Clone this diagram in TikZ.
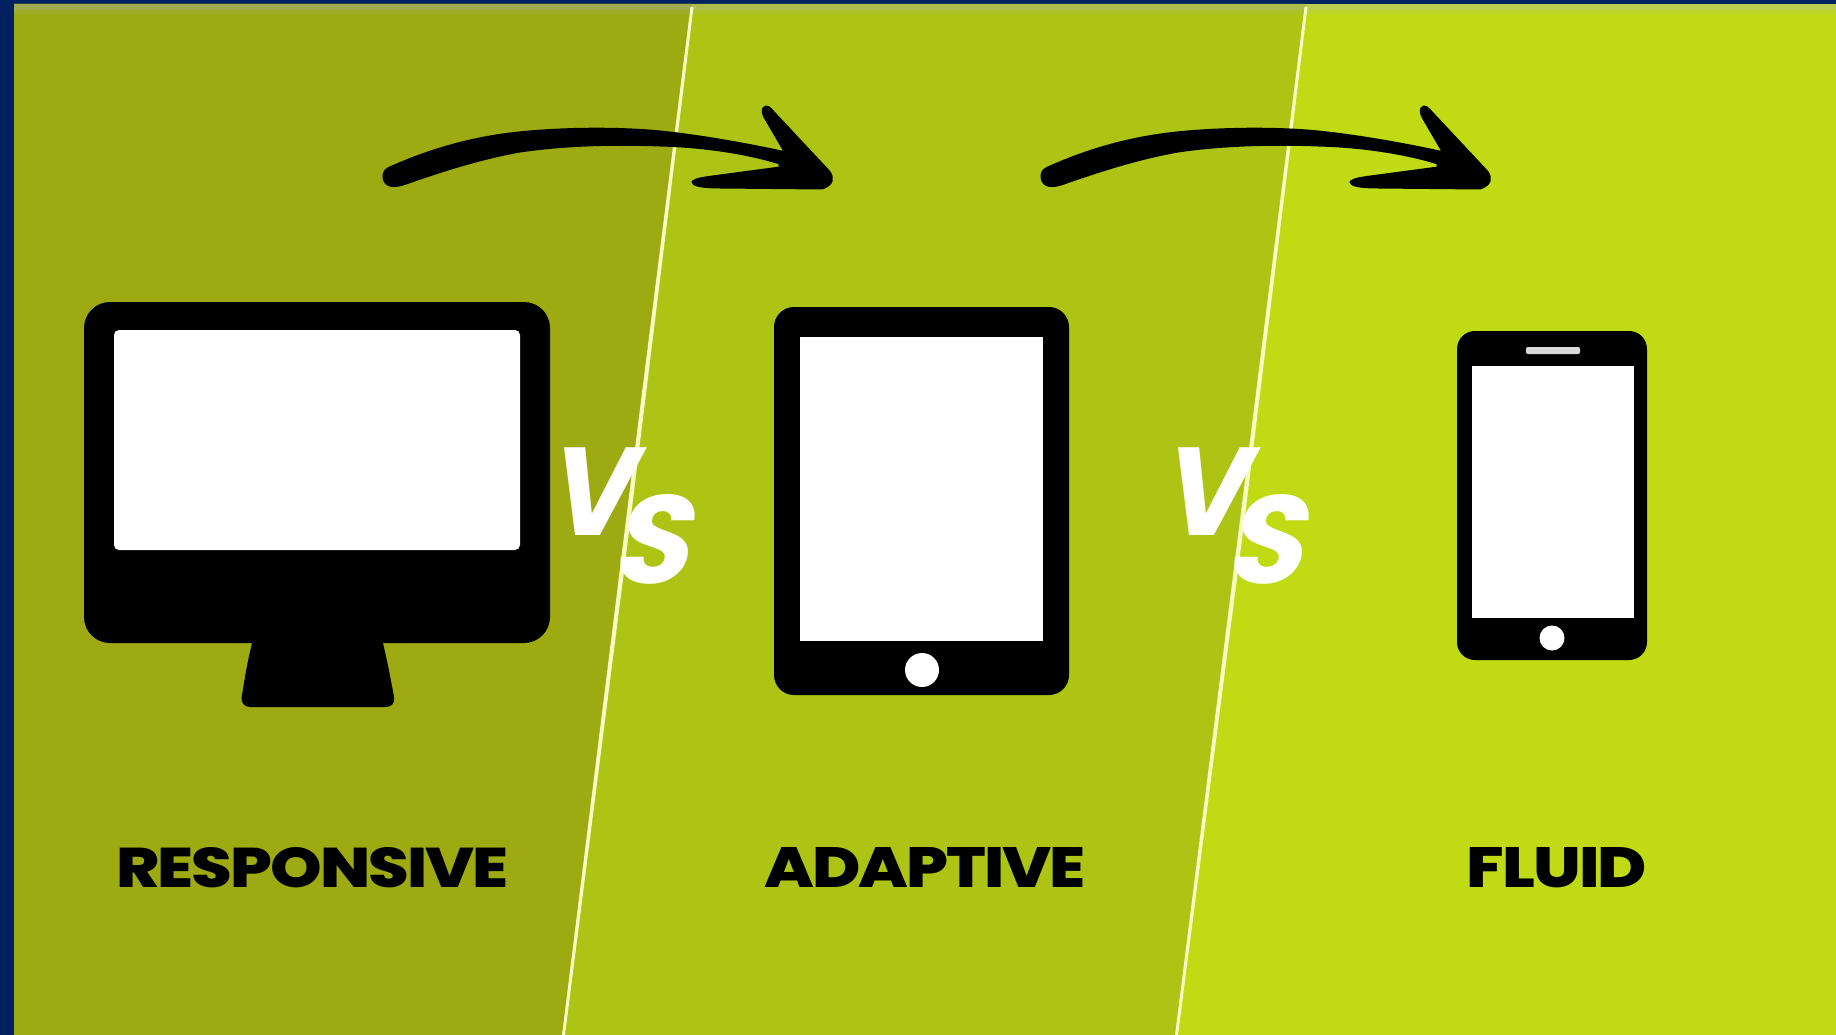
\documentclass[tikz,border=0pt]{standalone}
\usepackage{fontspec}
\usepackage{graphicx}
\IfFontExistsTF{Poppins ExtraBold}{\newfontfamily\labfont{Poppins ExtraBold}[LetterSpace=-3]}{\newfontfamily\labfont{Poppins}[FakeBold=1.5,LetterSpace=-3]}
\newfontfamily\vsfont{Poppins}[FakeSlant=0.22]
\definecolor{bluebg}{HTML}{00205F}
\definecolor{panelA}{HTML}{9DAA12}
\definecolor{panelB}{HTML}{AEC414}
\definecolor{panelC}{HTML}{C0DA14}
\definecolor{rule}{HTML}{F6FCC4}
\definecolor{haze}{HTML}{AAAAFF}
\tikzset{
  px/.style={x=1pt,y=-1pt},
  icon/.style={fill=black,draw=none},
  brush/.style={fill=black,draw=black,line width=3pt,line join=round},
  glass/.style={fill=white,draw=none},
  divider/.style={fill=rule,draw=none},
  lab/.style={inner sep=0pt,text=black,anchor=center},
  vs/.style={inner sep=0pt,text=white,anchor=base west}
}
\newcommand{\arrowshape}{
  (384,176) .. controls (384,172) and (386,170) .. (390,168)
  .. controls (430,150) and (470,139) .. (510,134)
  .. controls (560,128) and (620,128) .. (660,132)
  .. controls (700,136) and (750,145) .. (786,153)
  -- (765,117) .. controls (762,111) and (763,108) .. (766,107)
  .. controls (768,107) and (769,108) .. (771,110)
  -- (829,172) .. controls (833,178) and (833,184) .. (822,188)
  -- (720,187) .. controls (702,187) and (693,185) .. (693,182)
  .. controls (696,179) and (705,178) .. (720,176)
  -- (780,168) -- (780,163)
  .. controls (745,152) and (700,146) .. (660,145)
  .. controls (610,143) and (560,145) .. (520,151)
  .. controls (480,158) and (440,171) .. (403,184)
  .. controls (390,188) and (384,184) .. (384,176) -- cycle
}
\newcommand{\vstext}{\fontsize{125}{125}\vsfont\bfseries\makebox[65pt][l]{\scalebox{.93}[1]{V}}\raisebox{-48pt}{\scalebox{1}[1]{S}}}
\begin{document}
\begin{tikzpicture}[px]
\useasboundingbox (0,0) rectangle (1836,1035);
\fill[bluebg] (0,0) rectangle (1836,1035);
% panels
\fill[panelC] (14,4) rectangle (1836,1035);
\fill[panelB] (14,4) -- (1306,4) -- (1176,1035) -- (14,1035) -- cycle;
\fill[panelA] (14,4) -- (692,4) -- (563,1035) -- (14,1035) -- cycle;
% soft top edge
\fill[haze,opacity=.25] (14,4) rectangle (1836,10);
\fill[haze,opacity=.10] (14,10) rectangle (1836,14);
% dividers
\fill[divider] (690.5,7) -- (693.5,7) -- (630.5,520) -- (565,1035) -- (562,1035) -- (626,520) -- cycle;
\fill[divider] (1304.5,7) -- (1307.5,7) -- (1244.5,520) -- (1178,1035) -- (1175,1035) -- (1240,520) -- cycle;
% monitor
\fill[icon,rounded corners=26pt] (84,302) rectangle (550,643);
\fill[icon,rounded corners=10pt] (255,630) -- (380,630) -- (388,665) -- (396,707) -- (240,707) -- (247,665) -- cycle;
\fill[glass,rounded corners=5pt] (114,330) rectangle (520,550);
% tablet
\fill[icon,rounded corners=20pt] (774,307) rectangle (1069,695);
\fill[glass] (800,337) rectangle (1043,641);
\fill[glass] (922,670) circle (17);
% phone
\fill[icon,rounded corners=18pt] (1457,331) rectangle (1647,660);
\fill[glass] (1472,366) rectangle (1634,618);
\fill[white!85!black,rounded corners=2pt] (1526,347) rectangle (1580,354);
\fill[glass] (1552,638) circle (12.5);
% arrows
\path[brush] \arrowshape;
\begin{scope}[xshift=658pt]
\path[brush] \arrowshape;
\end{scope}
% VS
\node[vs] (vsa) at (545,535) {\vstext};
\node[vs] (vsb) at (1159,535) {\vstext};
% labels
\node[lab] (responsive) at (312.5,867.5) {\resizebox{392pt}{40pt}{\labfont RESPONSIVE}};
\node[lab] (adaptive) at (925,867.5) {\resizebox{321pt}{40pt}{\labfont ADAPTIVE}};
\node[lab] (fluid) at (1557,867.5) {\resizebox{180pt}{40pt}{\labfont FLUID}};
\end{tikzpicture}
\end{document}
